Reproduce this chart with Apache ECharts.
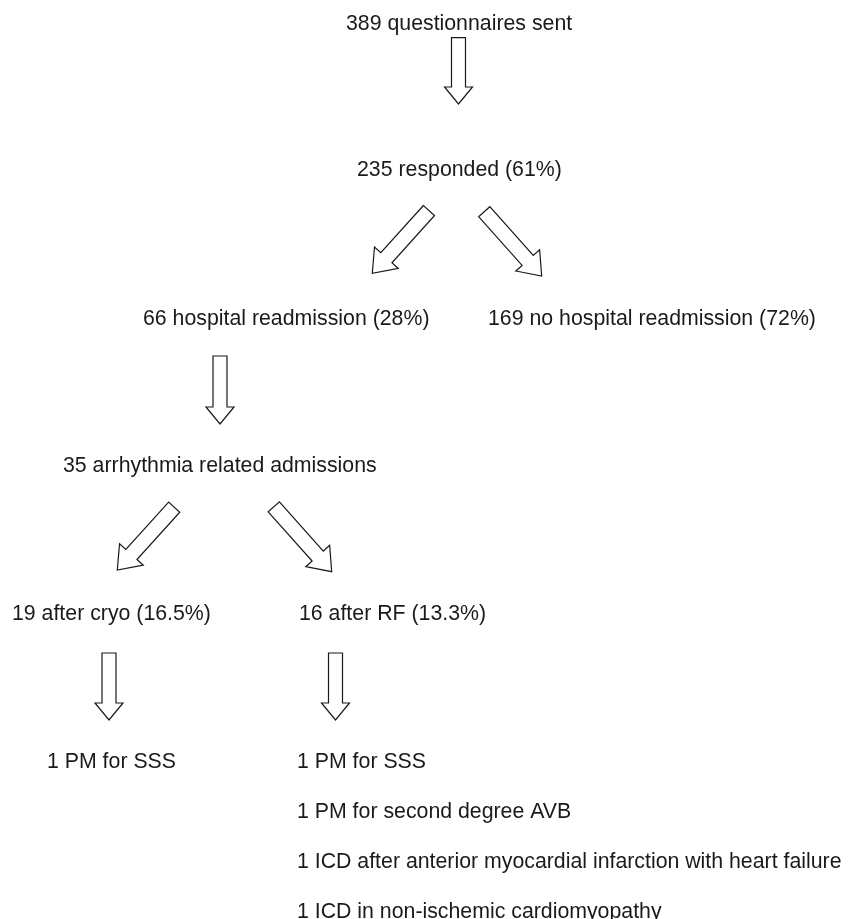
<!DOCTYPE html>
<html>
<head>
<meta charset="utf-8">
<script src="https://cdn.jsdelivr.net/npm/echarts@6/dist/echarts.min.js"></script>
<style>
html,body{margin:0;padding:0;background:#fff;}
#main{width:856px;height:919px;}
</style>
</head>
<body>
<div id="main"></div>
<script>
// Flowchart boxes (text) and their anchor points in a 856 x 919 data space
const nodeLabels = [
  "389 questionnaires sent",
  "235 responded (61%)",
  "66 hospital readmission (28%)",
  "169 no hospital readmission (72%)",
  "35 arrhythmia related admissions",
  "19 after cryo (16.5%)",
  "16 after RF (13.3%)",
  "1 PM for SSS",
  "1 PM for SSS",
  "1 PM for second degree AVB",
  "1 ICD after anterior myocardial infarction with heart failure",
  "1 ICD in non-ischemic cardiomyopathy"
];
const nodeX = [346, 357, 143, 488, 63, 12, 299, 47, 297, 297, 297, 297];
const nodeY = [24, 170.5, 319, 319, 466.5, 614, 614, 762.5, 762.5, 812.5, 862.5, 912];

// Arrows: start (tail centre) and end (tip)
const arrowFromX = [458.5, 429.0, 484.2, 220.0, 174.2, 273.8, 109.0, 335.5];
const arrowFromY = [37.7, 210.5, 211.7, 356.0, 507.2, 506.8, 653.0, 653.0];
const arrowToX   = [458.5, 372.3, 541.7, 220.0, 117.3, 331.7, 109.0, 335.5];
const arrowToY   = [104.0, 273.3, 276.0, 424.0, 570.0, 571.7, 720.0, 720.0];

const textData = nodeLabels.map((t, i) => [nodeX[i], nodeY[i], t]);
const arrowData = arrowFromX.map((x, i) => [x, arrowFromY[i], arrowToX[i], arrowToY[i]]);

const chart = echarts.init(document.getElementById('main'), null, {renderer: 'canvas'});
chart.setOption({
  backgroundColor: '#ffffff',
  animation: false,
  grid: {left: 0, right: 0, top: 0, bottom: 0},
  xAxis: {type: 'value', min: 0, max: 856, show: false},
  yAxis: {type: 'value', min: 0, max: 919, inverse: true, show: false},
  series: [
    {
      type: 'custom',
      coordinateSystem: 'cartesian2d',
      data: arrowData,
      renderItem: function (params, api) {
        const a = api.coord([api.value(0), api.value(1)]);
        const b = api.coord([api.value(2), api.value(3)]);
        const dx = b[0] - a[0], dy = b[1] - a[1];
        const len = Math.sqrt(dx * dx + dy * dy);
        const ux = dx / len, uy = dy / len;
        const px = -uy, py = ux;
        const vertical = Math.abs(dx) < 1;
        const w = vertical ? 7 : 7.5;
        const h = vertical ? 14 : 16;
        const L = vertical ? 17 : 21;
        const jx = b[0] - ux * L, jy = b[1] - uy * L;
        const pts = [
          [a[0] + px * w, a[1] + py * w],
          [jx + px * w, jy + py * w],
          [jx + px * h, jy + py * h],
          [b[0], b[1]],
          [jx - px * h, jy - py * h],
          [jx - px * w, jy - py * w],
          [a[0] - px * w, a[1] - py * w]
        ];
        return {
          type: 'polygon',
          shape: {points: pts},
          style: {fill: '#ffffff', stroke: '#1a1a1a', lineWidth: 1.2, lineJoin: 'miter'}
        };
      }
    },
    {
      type: 'custom',
      coordinateSystem: 'cartesian2d',
      data: textData,
      renderItem: function (params, api) {
        const p = api.coord([api.value(0), api.value(1)]);
        return {
          type: 'text',
          x: p[0],
          y: p[1],
          style: {
            text: textData[params.dataIndex][2],
            fill: '#1a1a1a',
            font: '21.3px "Liberation Sans", Arial, Helvetica, sans-serif',
            textAlign: 'left',
            textVerticalAlign: 'middle'
          }
        };
      }
    }
  ]
});
</script>
</body>
</html>
